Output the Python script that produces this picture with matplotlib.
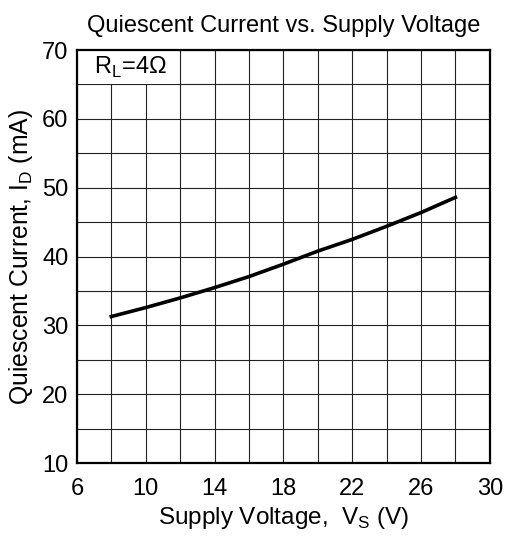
import matplotlib
matplotlib.use("Agg")
import matplotlib.pyplot as plt
from matplotlib.patches import Rectangle
import numpy as np

plt.rcParams['font.family'] = ['Liberation Sans', 'DejaVu Sans']
plt.rcParams['mathtext.fontset'] = 'custom'
plt.rcParams['mathtext.rm'] = 'Liberation Sans'

# Data
supply_voltage = [8, 10, 12, 14, 16, 18, 20, 22, 24, 26, 28]
quiescent_current = [31.3, 32.6, 34.0, 35.5, 37.1, 38.9, 40.8, 42.5, 44.4, 46.4, 48.6]
x_ticks = [6, 10, 14, 18, 22, 26, 30]
y_ticks = [10, 20, 30, 40, 50, 60, 70]

fig = plt.figure(figsize=(5.06, 5.38), dpi=100)
ax = fig.add_axes([0.152, 0.139, 0.816, 0.768])

ax.set_xlim(6, 30)
ax.set_ylim(10, 70)
ax.set_xticks(x_ticks)
ax.set_yticks(y_ticks)
ax.set_xticks(np.arange(6, 31, 2), minor=True)
ax.set_yticks(np.arange(10, 71, 5), minor=True)
ax.grid(True, which='both', color='#222222', linewidth=0.8)
ax.set_axisbelow(True)
ax.tick_params(which='both', length=0, labelsize=17)
ax.tick_params(axis='x', pad=11)
ax.tick_params(axis='y', pad=6)
for s in ax.spines.values():
    s.set_linewidth(1.6)

ax.plot(supply_voltage, quiescent_current, color='black', linewidth=2.6, zorder=3)

ax.add_patch(Rectangle((6, 65), 5.85, 5, facecolor='white', edgecolor='none', zorder=1))
ax.text(7.0, 66.6, r'R$_\mathregular{L}$=4Ω', fontsize=17, zorder=4)

ax.set_title('Quiescent Current vs. Supply Voltage', fontsize=17, pad=13)
ax.set_xlabel(r'Supply Voltage,  V$_\mathregular{S}$ (V)', fontsize=17.5, labelpad=3)
ax.set_ylabel(r'Quiescent Current, I$_\mathregular{D}$ (mA)', fontsize=17.8, labelpad=5)

fig.savefig('out.png', dpi=100)
